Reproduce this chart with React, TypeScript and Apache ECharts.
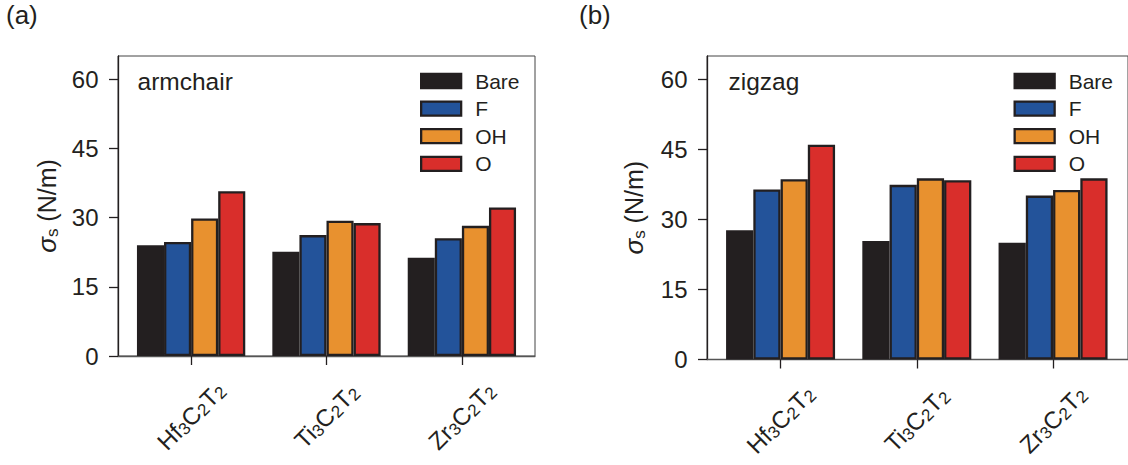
import React, { useEffect, useRef } from "react";
import * as echarts from "echarts";

const metals = ["Hf", "Ti", "Zr"];
const groups = ["Bare", "F", "OH", "O"];
const colors = ["#231f20", "#23539a", "#e8912f", "#d92e2b"];
const yTicks = [0, 15, 30, 45, 60];

const armBare = [24.0, 22.6, 21.3];
const armF = [24.7, 26.2, 25.5];
const armOH = [29.8, 29.3, 28.2];
const armO = [35.7, 28.8, 32.2];

const zigBare = [27.7, 25.4, 25.0];
const zigF = [36.4, 37.4, 35.1];
const zigOH = [38.6, 38.8, 36.3];
const zigO = [46.0, 38.4, 38.8];

const panelNames = ["armchair", "zigzag"];
const panelTags = ["(a)", "(b)"];

const FONT = "Liberation Sans, Arial, Helvetica, sans-serif";
const INK = "#231f20";

export default function App() {
  const ref = useRef<HTMLDivElement>(null);
  useEffect(() => {
    if (!ref.current) return;
    const chart = echarts.init(ref.current, null, { renderer: "svg" });
    const panels = [
      [armBare, armF, armOH, armO],
      [zigBare, zigF, zigOH, zigO],
    ];
    const grids = [
      { left: 118, top: 56, width: 417, height: 300 },
      { left: 707, top: 56, width: 422, height: 303.5 },
    ];
    const catIdx = metals.map((_, i) => i);
    const labelRich = {
      m: { fontSize: 24, fontFamily: FONT, color: INK, lineHeight: 26 },
      s: { fontSize: 17, fontFamily: FONT, color: INK, lineHeight: 17, verticalAlign: "bottom" as const },
    };
    const xAxes = grids.map((_, p) => ({
      type: "value",
      gridIndex: p,
      min: -0.54,
      max: p === 0 ? 2.54 : 2.55,
      splitLine: { show: false },
      axisLine: { show: true, onZero: false, lineStyle: { color: "#555", width: 1.3 } },
      axisTick: { show: true, customValues: catIdx, length: 9, lineStyle: { color: INK, width: 1.3 } },
      axisLabel: {
        customValues: catIdx,
        rotate: 45,
        align: "center",
        verticalAlign: "middle",
        margin: 60,
        formatter: (v: number) => `{m|${metals[Math.round(v)]}}{s|3}{m|C}{s|2}{m|T}{s|2}`,
        rich: labelRich,
      },
    }));
    const yAxes = grids.map((_, p) => ({
      type: "value",
      gridIndex: p,
      min: 0,
      max: 65,
      splitLine: { show: false },
      axisLine: { show: true, onZero: false, lineStyle: { color: INK, width: 1.3 } },
      axisTick: { show: true, customValues: yTicks, length: 9, lineStyle: { color: INK, width: 1.3 } },
      axisLabel: {
        customValues: yTicks,
        margin: 19.5,
        fontSize: 24,
        fontFamily: FONT,
        color: INK,
      },
      name: "{i|σ}{s|s}{m| (N/m)}",
      nameLocation: "middle",
      nameGap: p === 0 ? 57 : 59,
      nameRotate: 90,
      nameTextStyle: {
        rich: {
          i: { fontSize: 26, fontStyle: "italic", fontFamily: FONT, color: INK, lineHeight: 28 },
          s: { fontSize: 17, fontFamily: FONT, color: INK, lineHeight: 17, verticalAlign: "bottom" },
          m: { fontSize: 25, fontFamily: FONT, color: INK, lineHeight: 28 },
        },
      },
    }));
    const series: any[] = [];
    panels.forEach((vals, p) => {
      vals.forEach((arr, g) => {
        series.push({
          type: "bar",
          name: groups[g],
          xAxisIndex: p,
          yAxisIndex: p,
          barWidth: "20%",
          barGap: "0%",
          data: arr.map((v, i) => [i, v]),
          itemStyle: { color: colors[g], borderColor: INK, borderWidth: 2.3 },
        });
      });
    });
    const legends = [415, 1008.5].map((left) => ({
      orient: "vertical",
      left,
      top: 65.5,
      itemWidth: 40,
      itemHeight: 14,
      itemGap: 6.6,
      selectedMode: false,
      icon: "rect",
      data: groups,
      itemStyle: { borderColor: INK, borderWidth: 2.3 },
      textStyle: { fontSize: 21, fontFamily: FONT, color: INK, padding: [0, 0, 0, 9] },
    }));
    chart.setOption({
      animation: false,
      backgroundColor: "#ffffff",
      grid: grids.map((g) => ({ ...g, show: true, borderColor: "#444", borderWidth: 1, backgroundColor: "transparent" })),
      xAxis: xAxes,
      yAxis: yAxes,
      legend: legends,
      series,
      graphic: [
        { type: "text", x: 6, y: 15, style: { text: panelTags[0], fontSize: 26, fontFamily: FONT, fill: INK, verticalAlign: "middle" } },
        { type: "text", x: 579, y: 15, style: { text: panelTags[1], fontSize: 26, fontFamily: FONT, fill: INK, verticalAlign: "middle" } },
        { type: "text", x: 137.5, y: 81, style: { text: panelNames[0], fontSize: 24.5, fontFamily: FONT, fill: INK, verticalAlign: "middle" } },
        { type: "text", x: 728.5, y: 81, style: { text: panelNames[1], fontSize: 24.5, fontFamily: FONT, fill: INK, verticalAlign: "middle" } },
      ],
    });
    return () => chart.dispose();
  }, []);
  return (
    <div
      ref={ref}
      style={{ position: "fixed", left: 0, top: 0, width: 1128, height: 465, background: "#fff" }}
    />
  );
}
